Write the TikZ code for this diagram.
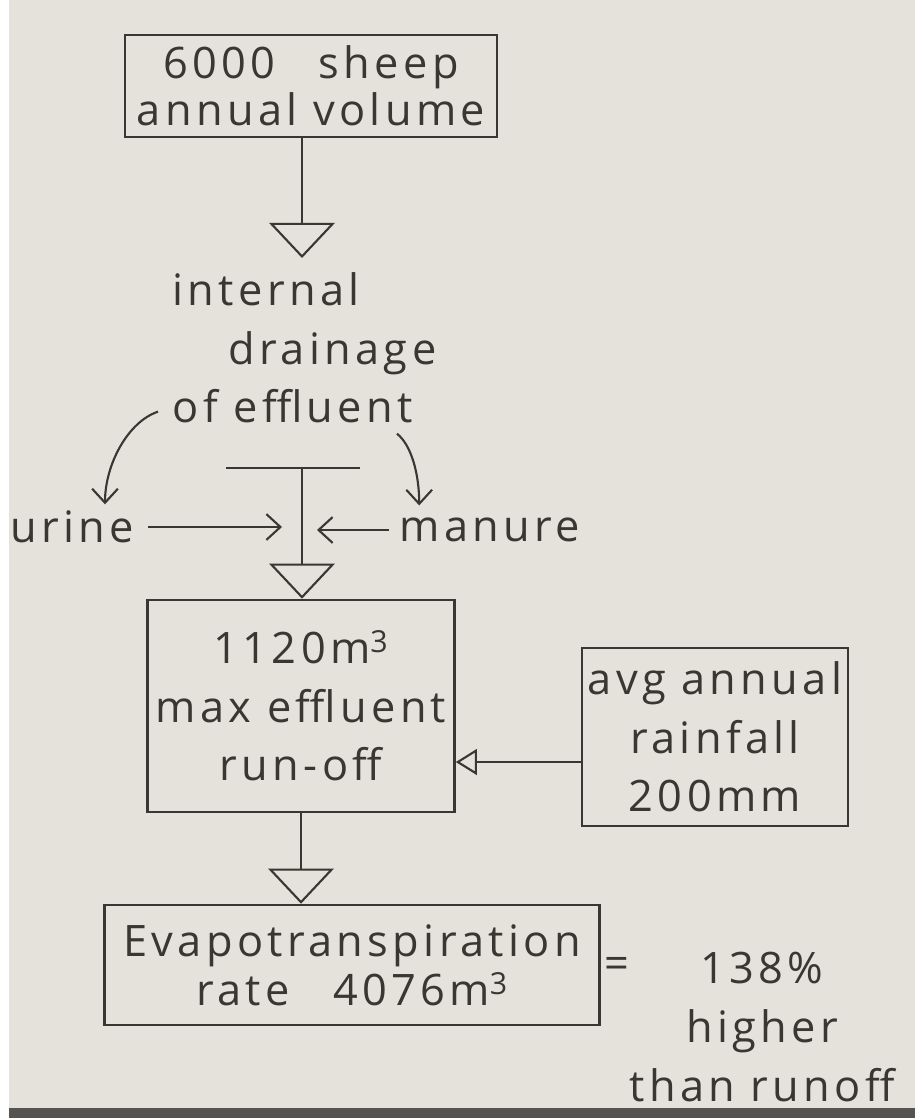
\documentclass[tikz,border=0pt]{standalone}
\usepackage{fontspec}
\setmainfont{Open Sans}[LetterSpace=10]
\usetikzlibrary{arrows.meta,calc}
\definecolor{sheetPaper}{RGB}{229,226,219}
\definecolor{sheetEdge}{RGB}{86,84,82}
\definecolor{pencilInk}{RGB}{58,54,50}
\newcommand{\hand}{\fontsize{37}{50}\selectfont}
\tikzset{
  inkbox/.style={draw=pencilInk, line width=2.2pt, align=center, inner sep=0pt,
    text=pencilInk, font=\hand},
  inktext/.style={text=pencilInk, inner sep=2pt, font=\hand},
  bigtri/.style={-{Triangle[open,length=30pt,width=56pt]}, line width=1.8pt, draw=pencilInk},
  smalltri/.style={-{Triangle[open,length=18pt,width=22pt]}, line width=1.8pt, draw=pencilInk},
  barb/.style={-{Straight Barb[length=12pt,width=22pt]}, line width=1.8pt, draw=pencilInk},
  pencil/.style={line width=1.8pt, draw=pencilInk}
}

\begin{document}
\begin{tikzpicture}[x=0.03cm,y=-0.03cm]
    % sheet of paper
    \fill[white] (0,0) rectangle (915,1118);
    \fill[sheetPaper] (9,0) rectangle (915,1108);
    \fill[sheetEdge] (9,1108) rectangle (915,1118);
    \useasboundingbox (0,0) rectangle (915,1118);

    \node[inkbox, minimum width=11.16cm, minimum height=3.06cm] (sheep) at (311,86) {6000\quad sheep\\[-10pt]annual volume};
    \node[inktext, align=left, anchor=north west] (drain) at (170,270) {internal\\\hspace*{48pt}drainage\\of effluent};
    \node[inktext] (urine) at (72,527) {urine};
    \node[inktext] (manure) at (490,530) {manure};
    \coordinate (tee) at (302,468);
    \node[inkbox, minimum width=9.21cm, minimum height=6.36cm] (runoff) at (301,706) {1120m\textsuperscript{3}\\max effluent\\run-off};
    \node[inkbox, minimum width=7.98cm, minimum height=5.34cm] (rain) at (715,737) {avg annual\\rainfall\\200mm};
    \node[inkbox, minimum width=14.85cm, minimum height=3.6cm] (evap) at (352,965) {Evapotranspiration\\[-8pt]rate\quad 4076m\textsuperscript{3}};
    \node[inktext] (eq) at (617,968) {=};
    \node[inktext, align=center, anchor=north] (result) at (762,950) {138\%\\higher\\than runoff};

    \draw[bigtri] (sheep.south -| tee) -- ($(drain.north -| tee)+(0,-12)$);
    \draw[barb] ($(drain.south west)+(-12,-14)$) .. controls +(-30,10) and +(0,-40) .. ($(urine.north)+(33,-4)$);
    \draw[barb] ($(drain.south east)+(-42,8)$) .. controls +(15,12) and +(0,-30) .. ($(manure.north west)+(22,-10)$);
    \draw[pencil] ($(tee)+(-76,0)$) -- ($(tee)+(58,0)$);
    \draw[barb] ($(urine.east)+(12,0)$) -- ($(tee |- urine.east)+(-20,0)$);
    \draw[barb] ($(manure.west)+(-8,0)$) -- ($(tee |- manure.west)+(15,0)$);
    \draw[bigtri] (tee) -- (runoff.north -| tee);
    \draw[smalltri] ($(rain.west)+(0,25)$) coordinate (feed) -- (runoff.east |- feed);
    \draw[bigtri] (runoff.south) -- (evap.north -| runoff.south);
  \end{tikzpicture}
\end{document}
